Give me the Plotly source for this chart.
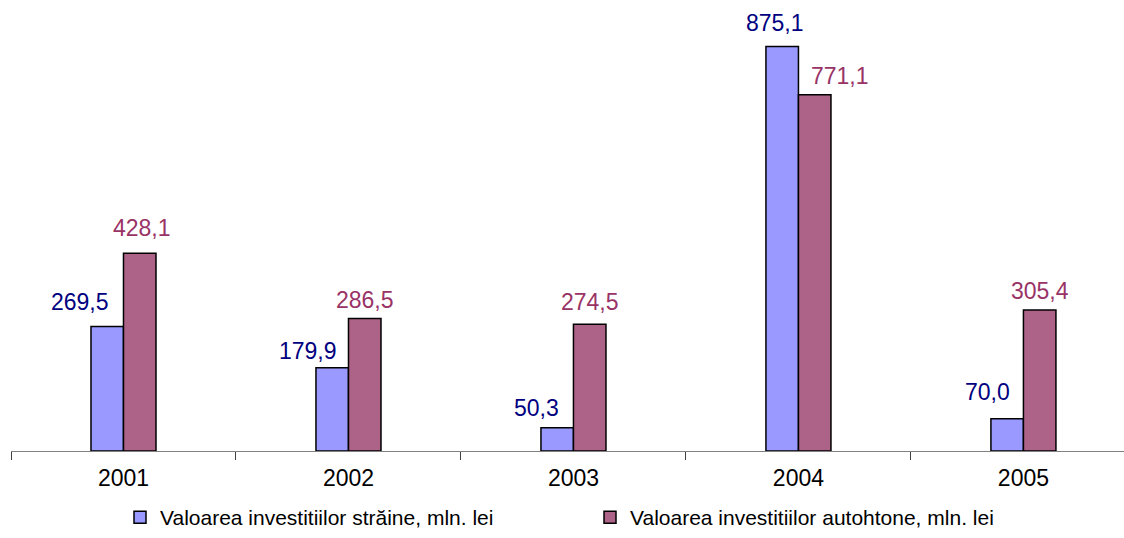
import plotly.graph_objects as go

years = ["2001", "2002", "2003", "2004", "2005"]
straine = [269.5, 179.9, 50.3, 875.1, 70.0]
autohtone = [428.1, 286.5, 274.5, 771.1, 305.4]
name_straine = "Valoarea investitiilor străine, mln. lei"
name_autohtone = "Valoarea investitiilor autohtone, mln. lei"

# label placement tweaks (pixels): (xshift, yshift above bar top)
off_straine = [(-27, 24), (-24, 17), (-21, 20), (-7, 24), (-20, 27)]
off_autohtone = [(2, 25), (0, 19), (0, 22), (25, 19), (0, 19)]

FONT = "Liberation Sans, Arial, sans-serif"
BLUE = "#9999FF"
MAROON = "#AD6388"
BLUE_TXT = "#000080"
MAROON_TXT = "#993366"

gap = 0.711
half = (1 - gap) / 4  # offset of bar centre from category centre

fig = go.Figure()
fig.add_trace(go.Bar(x=years, y=straine, name=name_straine,
                     marker=dict(color=BLUE, line=dict(color="black", width=1.5))))
fig.add_trace(go.Bar(x=years, y=autohtone, name=name_autohtone,
                     marker=dict(color=MAROON, line=dict(color="black", width=1.5))))

def fmt(v):
    return f"{v:.1f}".replace(".", ",")

ann = []
for i, (v, (dx, dy)) in enumerate(zip(straine, off_straine)):
    ann.append(dict(x=i - half, y=v, xref="x", yref="y", text=fmt(v), showarrow=False,
                    xshift=dx, yshift=dy, yanchor="middle",
                    font=dict(family=FONT, size=23, color=BLUE_TXT)))
for i, (v, (dx, dy)) in enumerate(zip(autohtone, off_autohtone)):
    ann.append(dict(x=i + half, y=v, xref="x", yref="y", text=fmt(v), showarrow=False,
                    xshift=dx, yshift=dy, yanchor="middle",
                    font=dict(family=FONT, size=23, color=MAROON_TXT)))

fig.update_layout(
    width=1124, height=538,
    margin=dict(l=11, r=0, t=0, b=87, autoexpand=False),
    paper_bgcolor="white", plot_bgcolor="white",
    barmode="group", bargap=gap, bargroupgap=0,
    font=dict(family=FONT, size=23, color="black"),
    annotations=ann,
    showlegend=True,
    legend=dict(orientation="h", xref="container", yref="container",
                x=120 / 1124, xanchor="left", y=-0.009, yanchor="bottom",
                font=dict(family=FONT, size=21, color="black"),
                entrywidth=425, entrywidthmode="pixels",
                bgcolor="rgba(0,0,0,0)", traceorder="normal"),
)
fig.update_xaxes(type="category", range=[-0.5, 4.447], showline=True, linecolor="#808080",
                 linewidth=1, ticks="outside", tickson="boundaries", ticklen=8,
                 tickcolor="#404040", showgrid=False, zeroline=False, automargin=False,
                 tickfont=dict(family=FONT, size=23, color="black"), ticklabelstandoff=6)
fig.update_yaxes(range=[0, 976], visible=False, showgrid=False, zeroline=False)

fig.write_html("out.html", config={"displayModeBar": False},
               post_script="document.body.style.margin='0';")
